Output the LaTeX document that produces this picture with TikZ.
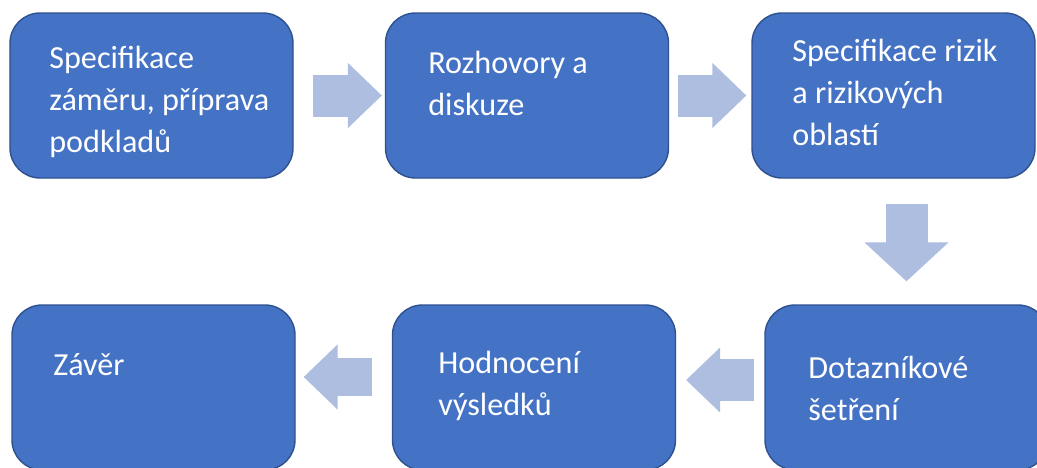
\documentclass[tikz,border=0pt]{standalone}
\usepackage{fontspec}
\setmainfont{Carlito}
\usetikzlibrary{arrows.meta}
\definecolor{myblue}{HTML}{4472C4}
\definecolor{mydarkblue}{HTML}{2F528F}
\definecolor{mypaleblue}{HTML}{AEBEE0}

\tikzset{
  stepbox/.style={draw=mydarkblue, fill=myblue, line width=0.8pt, rounded corners=0.6cm,
    minimum width=5.66cm, minimum height=3.30cm, inner sep=0pt},
  steptext/.style={white, anchor=base west, align=left, inner sep=0pt,
    font=\fontsize{18.3}{23.9}\selectfont},
  fatarrow/.style={mypaleblue, line width=0.84cm,
    -{Triangle[width=1.3cm, length=0.68cm, line width=1pt]}},
}

\begin{document}
\begin{tikzpicture}
\useasboundingbox (0,0) rectangle (20.74,9.34);

% UPPER ROW
\node[stepbox] (b1) at (3.03,7.43) {};
\node[stepbox] (b2) at (10.54,7.43) {};
\node[stepbox] (b3) at (17.87,7.43) {};

% LOWER ROW
\node[stepbox] (b4) at (3.07,1.59) {};
\node[stepbox] (b5) at (10.68,1.59) {};
\node[stepbox] (b6) at (18.13,1.59) {};

% TEXTS (base = last line)
\node[steptext] (t1) at (0.98,6.30) {Specifikace\\záměru, příprava\\podkladů};
\node[steptext] (t2) at (8.56,7.04) {Rozhovory a\\diskuze};
\node[steptext] (t3) at (15.84,6.44) {Specifikace rizik\\a rizikových\\oblastí};
\node[steptext] (t4) at (1.06,1.84) {Závěr};
\node[steptext] (t5) at (8.76,1.04) {Hodnocení\\výsledků};
\node[steptext] (t6) at (16.16,0.94) {Dotazníkové\\šetření};

% ARROWS
\draw[fatarrow, shorten <=0.38cm, shorten >=0.06cm] (b1) -- (b2);
\draw[fatarrow, shorten <=0.18cm, shorten >=0.10cm] (b2) -- (b3);
\draw[fatarrow, -{Triangle[width=1.68cm, length=0.78cm, line width=1pt]},
  shorten <=0.5cm, shorten >=0.46cm] (b3.south -| b6.north) -- (b6.north);
\draw[fatarrow, shorten <=0.2cm, shorten >=0.2cm] ([yshift=0.15cm]b6.west) -- ([yshift=0.15cm]b5.east);
\draw[fatarrow, line width=0.76cm, shorten <=0.4cm, shorten >=0.16cm] ([yshift=0.21cm]b5.west) -- ([yshift=0.21cm]b4.east);

\end{tikzpicture}
\end{document}
